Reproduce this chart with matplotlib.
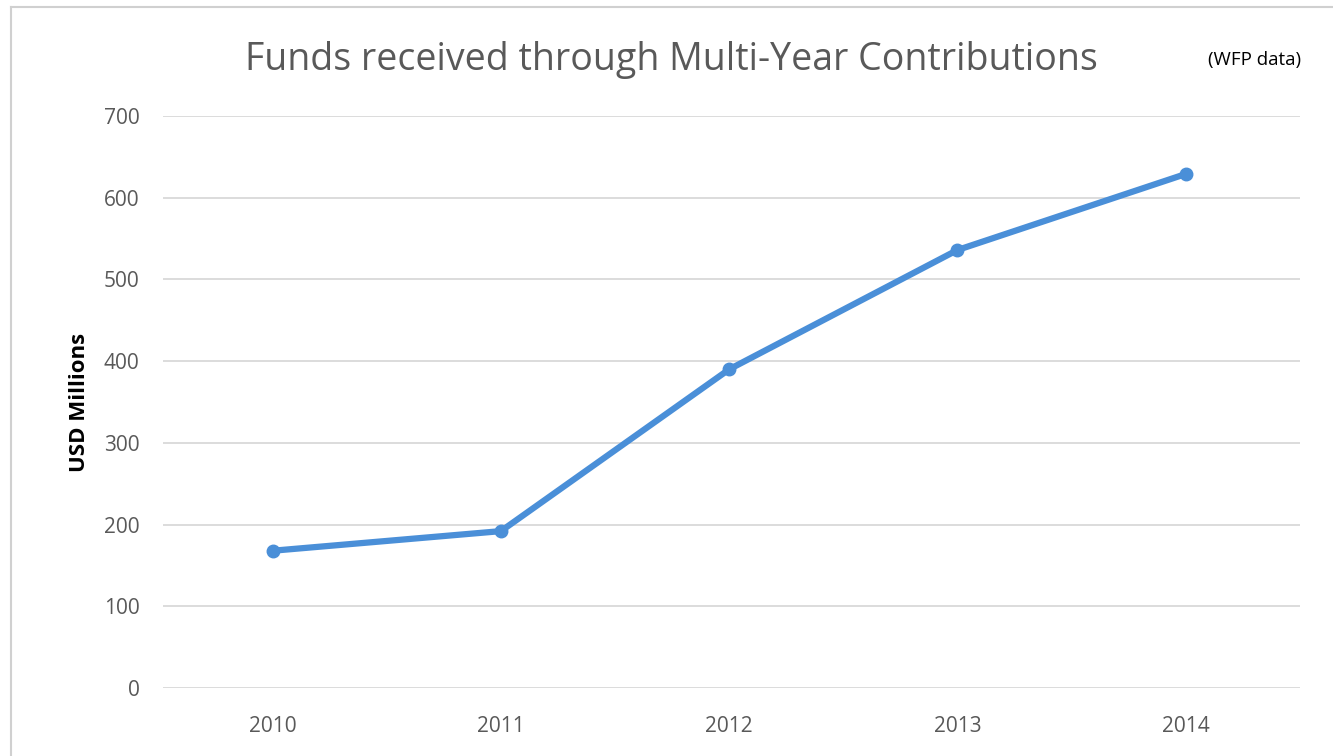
import matplotlib.pyplot as plt
from matplotlib.lines import Line2D

# data
years = ["2010", "2011", "2012", "2013", "2014"]
funds = [168, 192, 390, 536, 629]
yticks = [0, 100, 200, 300, 400, 500, 600, 700]

plt.rcParams['font.family'] = ['Open Sans', 'DejaVu Sans']

fig = plt.figure(figsize=(13.33, 7.56), dpi=100)
ax = fig.add_axes([0.1223, 0.0899, 0.8529, 0.7567])

x = range(len(years))
ax.plot(x, funds, color='#4a8fd8', linewidth=4.5, marker='o', markersize=9,
        solid_capstyle='round')

ax.set_xlim(-0.48, 4.5)
ax.set_ylim(0, 700)
ax.set_yticks(yticks)
ax.set_xticks(list(x))
ax.set_xticklabels(years)
ax.grid(axis='y', color='#d9d9d9', linewidth=1.3)
ax.set_axisbelow(True)
for s in ax.spines.values():
    s.set_visible(False)
ax.tick_params(length=0, labelsize=15, labelcolor='#595959')
ax.tick_params(axis='y', pad=17)
ax.tick_params(axis='x', pad=20)
ax.set_ylabel("USD Millions", fontsize=16, fontweight='bold', labelpad=10)

fig.text(0.504, 0.921, "Funds received through Multi-Year Contributions",
         ha='center', va='center', fontsize=27, color='#595959')
fig.text(0.941, 0.921, "(WFP data)", ha='center', va='center', fontsize=13.5, color='black')

# outer chart border (left and top visible)
fig.add_artist(Line2D([0.0083, 0.0083], [0, 0.9907], transform=fig.transFigure,
                      color='#d0d0d0', linewidth=1.5))
fig.add_artist(Line2D([0.0083, 1.0], [0.9907, 0.9907], transform=fig.transFigure,
                      color='#d0d0d0', linewidth=1.5))

fig.savefig("out.png", dpi=100)
